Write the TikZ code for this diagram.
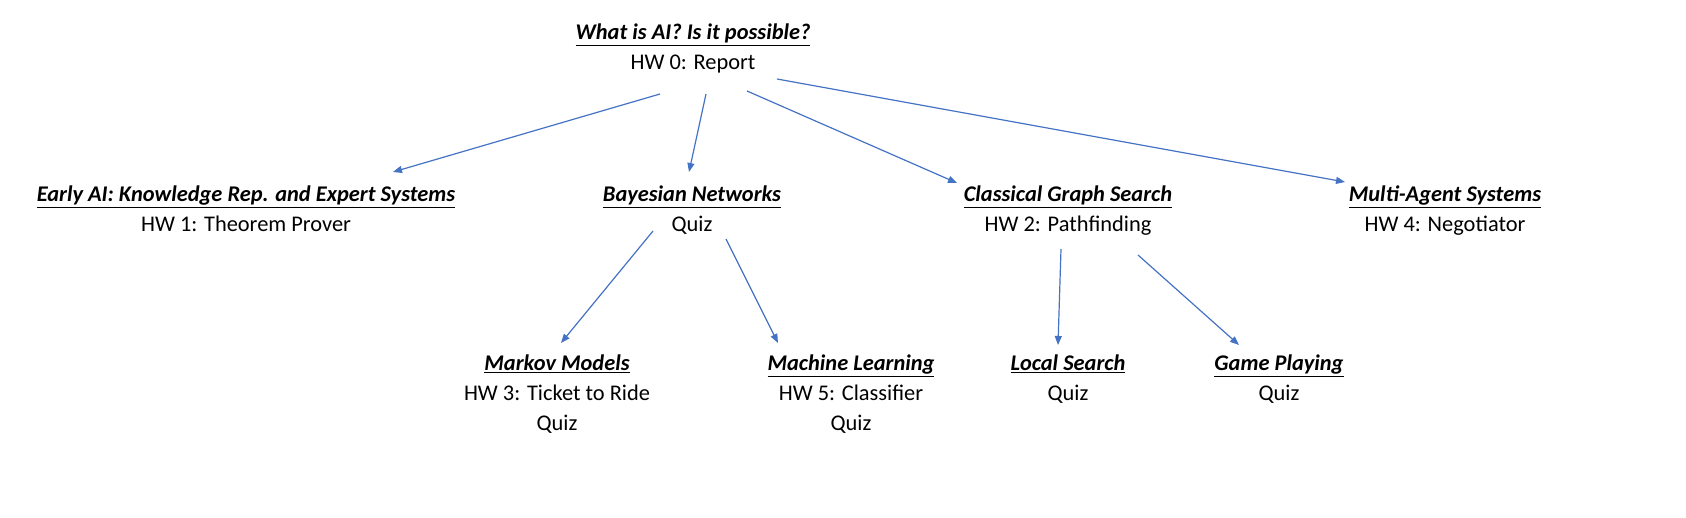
\documentclass[tikz,border=0pt]{standalone}
\usepackage{fontspec}
\setmainfont{Carlito}
\usetikzlibrary{arrows.meta}
\definecolor{arr}{HTML}{4472C4}
\begin{document}
\begin{tikzpicture}[x=1pt,y=-1pt,
  topic/.style={font=\fontsize{22.4}{30}\selectfont, align=center, inner sep=0pt, anchor=north},
  conn/.style={draw=arr, line width=1.2pt, -{Triangle[length=9pt,width=7pt]}}]
\useasboundingbox (0,0) rectangle (1686,518);
\newcommand{\ttl}[1]{\textbf{\textit{\underline{#1}}}}
\node[topic] (root) at (693,24) {\ttl{What is AI? Is it possible?}\\HW 0: Report};
\node[topic] (early) at (246,186) {\ttl{Early AI: Knowledge Rep. and Expert Systems}\\HW 1: Theorem Prover};
\node[topic] (bayes) at (692,186) {\ttl{Bayesian Networks}\\Quiz};
\node[topic] (graph) at (1068,186) {\ttl{Classical Graph Search}\\HW 2: Pathfinding};
\node[topic] (multi) at (1445,186) {\ttl{Multi-Agent Systems}\\HW 4: Negotiator};
\node[topic] (markov) at (557,355) {\ttl{Markov Models}\\HW 3: Ticket to Ride\\Quiz};
\node[topic] (ml) at (851,355) {\ttl{Machine Learning}\\HW 5: Classifier\\Quiz};
\node[topic] (local) at (1068,355) {\ttl{Local Search}\\Quiz};
\node[topic] (game) at (1279,355) {\ttl{Game Playing}\\Quiz};
\coordinate (r1) at (660,94); \coordinate (r2) at (706,94);
\coordinate (r3) at (747,91); \coordinate (r4) at (777,79);
\coordinate (e1) at (393,172); \coordinate (b0) at (689,172);
\coordinate (g0) at (957,183); \coordinate (m0) at (1345,182);
\coordinate (b1) at (653,231); \coordinate (b2) at (726,239);
\coordinate (mk) at (561,343); \coordinate (ml0) at (778,343);
\coordinate (g1) at (1061,249); \coordinate (g2) at (1138,255);
\coordinate (ls) at (1058,345); \coordinate (gp) at (1239,345);
\draw[conn] (r1) -- (e1);
\draw[conn] (r2) -- (b0);
\draw[conn] (r3) -- (g0);
\draw[conn] (r4) -- (m0);
\draw[conn] (b1) -- (mk);
\draw[conn] (b2) -- (ml0);
\draw[conn] (g1) -- (ls);
\draw[conn] (g2) -- (gp);
\end{tikzpicture}
\end{document}
